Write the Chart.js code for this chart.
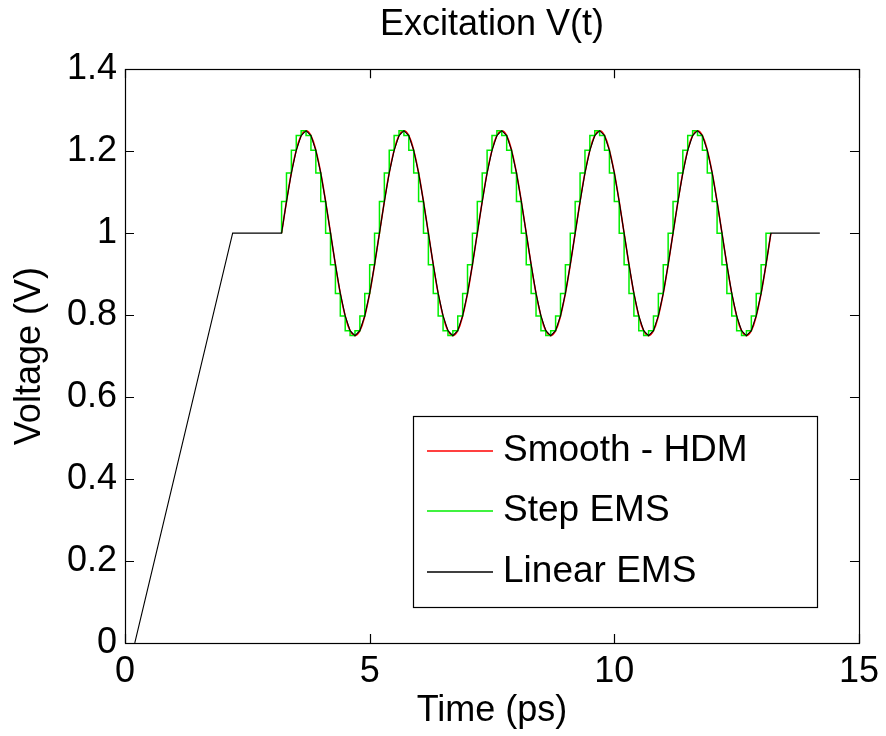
<!DOCTYPE html>
<html>
<head>
<meta charset="utf-8">
<title>Excitation V(t)</title>
<script src="https://cdn.jsdelivr.net/npm/chart.js@4.4.1/dist/chart.umd.min.js"></script>
<style>
  html, body { margin: 0; padding: 0; background: #fff; }
  #excitation { display: block; }
</style>
</head>
<body>
<canvas id="excitation" width="886" height="736"></canvas>
<script>
// ramp up and settle before the oscillation (ps, V)
const rampTime = [0.2, 2.2];
const rampVolt = [0, 1];

// sampled excitation, 0.1 ps apart
const sampleTime = [
  3.2, 3.3, 3.4, 3.5, 3.6, 3.7, 3.8, 3.9, 4.0, 4.1,
  4.2, 4.3, 4.4, 4.5, 4.6, 4.7, 4.8, 4.9, 5.0, 5.1,
  5.2, 5.3, 5.4, 5.5, 5.6, 5.7, 5.8, 5.9, 6.0, 6.1,
  6.2, 6.3, 6.4, 6.5, 6.6, 6.7, 6.8, 6.9, 7.0, 7.1,
  7.2, 7.3, 7.4, 7.5, 7.6, 7.7, 7.8, 7.9, 8.0, 8.1,
  8.2, 8.3, 8.4, 8.5, 8.6, 8.7, 8.8, 8.9, 9.0, 9.1,
  9.2, 9.3, 9.4, 9.5, 9.6, 9.7, 9.8, 9.9, 10.0, 10.1,
  10.2, 10.3, 10.4, 10.5, 10.6, 10.7, 10.8, 10.9, 11.0, 11.1,
  11.2, 11.3, 11.4, 11.5, 11.6, 11.7, 11.8, 11.9, 12.0, 12.1,
  12.2, 12.3, 12.4, 12.5, 12.6, 12.7, 12.8, 12.9, 13.0, 13.1,
  13.2
];
const sampleVolt = [
  1.000, 1.077, 1.147, 1.202, 1.238, 1.250, 1.238, 1.202, 1.147, 1.077,
  1.000, 0.923, 0.853, 0.798, 0.762, 0.750, 0.762, 0.798, 0.853, 0.923,
  1.000, 1.077, 1.147, 1.202, 1.238, 1.250, 1.238, 1.202, 1.147, 1.077,
  1.000, 0.923, 0.853, 0.798, 0.762, 0.750, 0.762, 0.798, 0.853, 0.923,
  1.000, 1.077, 1.147, 1.202, 1.238, 1.250, 1.238, 1.202, 1.147, 1.077,
  1.000, 0.923, 0.853, 0.798, 0.762, 0.750, 0.762, 0.798, 0.853, 0.923,
  1.000, 1.077, 1.147, 1.202, 1.238, 1.250, 1.238, 1.202, 1.147, 1.077,
  1.000, 0.923, 0.853, 0.798, 0.762, 0.750, 0.762, 0.798, 0.853, 0.923,
  1.000, 1.077, 1.147, 1.202, 1.238, 1.250, 1.238, 1.202, 1.147, 1.077,
  1.000, 0.923, 0.853, 0.798, 0.762, 0.750, 0.762, 0.798, 0.853, 0.923,
  1.000
];

// hold after the oscillation
const tailTime = [14.2];
const tailVolt = [1];

const xTicks = [0, 5, 10, 15];
const yTicks = [0, 0.2, 0.4, 0.6, 0.8, 1, 1.2, 1.4];

const FONT = 'Liberation Sans, Arial, sans-serif';
const RED = 'rgb(255, 0, 0)';
const GREEN = 'rgb(0, 238, 0)';
const BLACK = 'rgb(0, 0, 0)';

const toPoints = (xs, ys) => xs.map((x, i) => ({ x: x, y: ys[i] }));

const linearPts = toPoints(rampTime, rampVolt)
  .concat(toPoints(sampleTime, sampleVolt))
  .concat(toPoints(tailTime, tailVolt));

// MATLAB style box with inward ticks on all four sides
const boxAxes = {
  id: 'boxAxes',
  afterDatasetsDraw(chart) {
    const { ctx, chartArea: a, scales } = chart;
    const len = 9;
    ctx.save();
    ctx.strokeStyle = '#000';
    ctx.lineWidth = 1.2;
    ctx.beginPath();
    xTicks.forEach(v => {
      const px = Math.round(scales.x.getPixelForValue(v)) + 0.5;
      ctx.moveTo(px, a.bottom); ctx.lineTo(px, a.bottom - len);
      ctx.moveTo(px, a.top); ctx.lineTo(px, a.top + len);
    });
    yTicks.forEach(v => {
      const py = Math.round(scales.y.getPixelForValue(v)) + 0.5;
      ctx.moveTo(a.left, py); ctx.lineTo(a.left + len, py);
      ctx.moveTo(a.right, py); ctx.lineTo(a.right - len, py);
    });
    ctx.stroke();
    ctx.strokeRect(Math.round(a.left) + 0.5, Math.round(a.top) + 0.5,
      Math.round(a.right - a.left), Math.round(a.bottom - a.top));
    ctx.restore();
  }
};

// boxed legend in the lower right of the plot
const boxLegend = {
  id: 'boxLegend',
  afterDraw(chart) {
    const { ctx, chartArea: a } = chart;
    const w = 404, h = 191;
    const x0 = Math.round(a.right - 446), y0 = Math.round(a.bottom - 227);
    const rows = [35, 95, 156];
    ctx.save();
    ctx.fillStyle = '#fff';
    ctx.fillRect(x0, y0, w, h);
    ctx.strokeStyle = '#000';
    ctx.lineWidth = 1.2;
    ctx.strokeRect(x0 + 0.5, y0 + 0.5, w, h);
    ctx.font = '37px ' + FONT;
    ctx.textBaseline = 'middle';
    ctx.textAlign = 'left';
    chart.data.datasets.forEach((ds, i) => {
      const y = y0 + rows[i];
      ctx.beginPath();
      ctx.strokeStyle = ds.borderColor;
      ctx.lineWidth = 1.5;
      ctx.moveTo(x0 + 14, y);
      ctx.lineTo(x0 + 80, y);
      ctx.stroke();
      ctx.fillStyle = '#000';
      ctx.fillText(ds.label, x0 + 90, y);
    });
    ctx.restore();
  }
};

new Chart(document.getElementById('excitation'), {
  type: 'line',
  data: {
    datasets: [
      {
        label: 'Smooth - HDM',
        data: toPoints(sampleTime, sampleVolt),
        borderColor: RED,
        borderWidth: 1.6,
        tension: 0.4,
        pointRadius: 0,
        order: 2
      },
      {
        label: 'Step EMS',
        data: toPoints(sampleTime, sampleVolt),
        borderColor: GREEN,
        borderWidth: 1.5,
        stepped: 'after',
        pointRadius: 0,
        order: 1
      },
      {
        label: 'Linear EMS',
        data: linearPts,
        borderColor: BLACK,
        borderWidth: 1.1,
        pointRadius: 0,
        order: 0
      }
    ]
  },
  options: {
    responsive: false,
    animation: false,
    layout: { padding: { left: 0, right: 27, top: 0, bottom: 0 } },
    plugins: {
      legend: { display: false },
      tooltip: { enabled: false },
      title: {
        display: true,
        text: 'Excitation V(t)',
        fullSize: false,
        color: '#000',
        font: { family: FONT, size: 36, weight: 'normal', lineHeight: 1.2 },
        padding: { top: 3, bottom: 23 }
      }
    },
    scales: {
      x: {
        type: 'linear',
        min: 0,
        max: 15,
        grid: { display: false, drawTicks: false },
        border: { display: false },
        afterBuildTicks: s => { s.ticks = xTicks.map(v => ({ value: v })); },
        ticks: { color: '#000', padding: 7, maxRotation: 0, font: { family: FONT, size: 36 }, callback: v => String(v) },
        title: {
          display: true,
          text: 'Time (ps)',
          color: '#000',
          font: { family: FONT, size: 36, lineHeight: 1.2 },
          padding: { top: 0, bottom: 3 }
        },
        afterFit: s => { s.height = 93; }
      },
      y: {
        min: 0,
        max: 1.4,
        grid: { display: false, drawTicks: false },
        border: { display: false },
        afterBuildTicks: s => { s.ticks = yTicks.map(v => ({ value: v })); },
        ticks: { color: '#000', padding: 8, font: { family: FONT, size: 36 }, callback: v => String(v) },
        title: {
          display: true,
          text: 'Voltage (V)',
          color: '#000',
          font: { family: FONT, size: 36, lineHeight: 1.2 },
          padding: { top: 8, bottom: 0 }
        },
        afterFit: s => { s.width = 125; }
      }
    }
  },
  plugins: [boxAxes, boxLegend]
});
</script>
</body>
</html>
